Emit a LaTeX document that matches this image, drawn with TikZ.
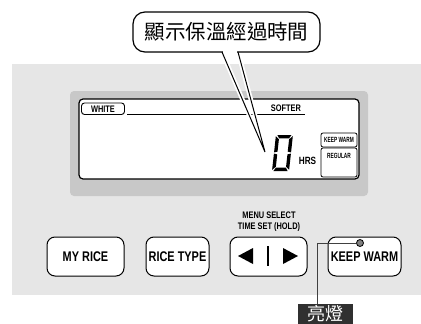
\documentclass[tikz,border=0pt]{standalone}
\usepackage{fontspec}
\newfontfamily\cn[FakeStretch=0.78]{Liberation Sans}
\newfontfamily\cnn[FakeStretch=0.64]{Liberation Sans}
\newfontfamily\cjk{Noto Sans CJK TC}
\definecolor{panelgray}{HTML}{E6E6E6}
\definecolor{bezelgray}{HTML}{C8C8C8}
\definecolor{tagfill}{HTML}{303030}
\begin{document}
\begin{tikzpicture}[x=1pt,y=-1pt,
  btn/.style={draw=black, line width=1pt, fill=white, rounded corners=8pt,
    inner sep=0pt, minimum height=39pt, font=\cn\bfseries\fontsize{14}{14}\selectfont},
  lcdtxt/.style={inner sep=0pt, font=\cn\bfseries\fontsize{9.5}{9.5}\selectfont},
  tinytxt/.style={inner sep=0pt, font=\cnn\bfseries\fontsize{7.5}{7.5}\selectfont},
  seg/.style={fill=black}]
\useasboundingbox (0,0) rectangle (421,324);
% panel and LCD
\fill[panelgray] (12,64) rectangle (425,295);
\fill[bezelgray, rounded corners=4pt] (70,91) rectangle (368,196);
\draw[fill=white, line width=1.2pt, rounded corners=4pt] (79,99) rectangle (359,179);
% LCD contents
\node[draw, line width=0.9pt, rounded corners=3pt, minimum width=43pt, minimum height=11.5pt,
  lcdtxt] (white) at (103,108.75) {WHITE};
\draw[line width=0.8pt] (127,114.5) -- (305,114.5);
\node[lcdtxt] (softer) at (286,108) {SOFTER};
\node[draw, line width=0.8pt, rounded corners=2pt, minimum width=36pt, minimum height=14pt,
  tinytxt] (kwlcd) at (339,140) {KEEP WARM};
\draw[line width=0.8pt, rounded corners=2pt] (321,148) -- (321,177) -- (357,177) -- (357,148) -- cycle;
\node[tinytxt] (regular) at (339,156) {REGULAR};
\node[inner sep=0pt, font=\cn\bfseries\fontsize{10.5}{10.5}\selectfont] (hrs) at (307.5,161) {HRS};
% seven-segment 0
\begin{scope}[shift={(272,171)}, y=1pt, xslant=0.11]
  \fill[seg] (1.4,36) -- (15.6,36) -- (13.4,32.6) -- (3.6,32.6) -- cycle;
  \fill[seg] (1.4,0) -- (15.6,0) -- (13.4,3.4) -- (3.6,3.4) -- cycle;
  \fill[seg] (0,34.8) -- (3.4,31.8) -- (3.4,19.4) -- (0,18.6) -- cycle;
  \fill[seg] (0,17.4) -- (3.4,16.6) -- (3.4,4.2) -- (0,1.2) -- cycle;
  \fill[seg] (17,34.8) -- (13.6,31.8) -- (13.6,19.4) -- (17,18.6) -- cycle;
  \fill[seg] (17,17.4) -- (13.6,16.6) -- (13.6,4.2) -- (17,1.2) -- cycle;
\end{scope}
% callout
\node[draw, line width=1.2pt, fill=white, rounded corners=12pt, minimum width=187pt,
  minimum height=40pt, inner sep=0pt, font=\cjk\fontsize{20.5}{20.5}\selectfont]
  (bubble) at (226.5,32) {顯示保溫經過時間};
\coordinate (pl) at (222,52);
\coordinate (pr) at (238,52);
\coordinate (tip) at (265,152);
\fill[white] (222.6,49) rectangle (237.4,54);
\draw[white, line width=4.5pt, line join=round, shorten <=3pt, shorten >=3pt] (pl) -- (tip) -- (pr);
\draw[black, line width=1pt, line join=miter] (pl) -- (tip) -- (pr);
% buttons
\node[btn, minimum width=77pt] (myrice) at (85.5,256.5) {MY RICE};
\node[btn, minimum width=63pt] (ricetype) at (177.5,256.5) {RICE TYPE};
\node[btn, minimum width=77pt] (arrows) at (268.5,256.5) {};
\node[btn, minimum width=73pt] (keepwarm) at (364.5,256.5) {KEEP WARM};
\fill (238,256) -- (253,248) -- (253,264) -- cycle;
\fill (298,256) -- (283,248) -- (283,264) -- cycle;
\draw[line width=1.3pt] (268,246) -- (268,266);
\node[align=center, inner sep=0pt, font=\cn\bfseries\fontsize{9.5}{11}\selectfont]
  (menu) at (269,221.5) {MENU SELECT\\TIME SET (HOLD)};
% indicator
\node[circle, draw=black, line width=0.8pt, fill=black!50, inner sep=0pt, minimum size=7pt]
  (led) at (360,243) {};
\node[fill=tagfill, minimum width=55pt, minimum height=20pt, inner sep=0pt, text=white,
  font=\cjk\fontsize{18}{18}\selectfont] (light) at (325.5,314) {亮燈};
\coordinate (bend) at (317.5,243);
\draw[black!75, line width=1pt] (led.west) -- (bend) -- (bend |- light.north);
\end{tikzpicture}
\end{document}
